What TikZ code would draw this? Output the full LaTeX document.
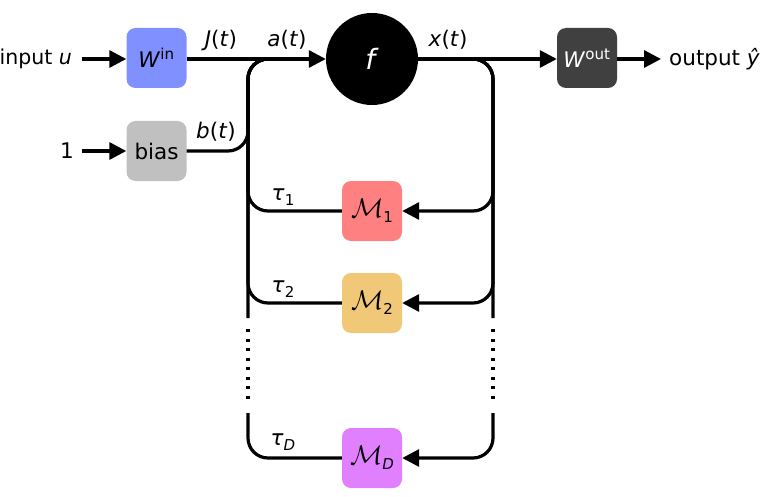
\documentclass[tikz,border=0pt]{standalone}
\usepackage{fontspec}
\usepackage{graphicx}
\setmainfont{DejaVu Sans}
\usetikzlibrary{arrows.meta}
\definecolor{cwin}{HTML}{8090FF}
\definecolor{cwout}{HTML}{404040}
\definecolor{cbias}{HTML}{C0C0C0}
\definecolor{cmone}{HTML}{FF8080}
\definecolor{cmtwo}{HTML}{F0C878}
\definecolor{cmd}{HTML}{E080FF}
\newcommand{\mysub}[1]{\raisebox{-0.45ex}{\fontsize{15}{17}\selectfont #1}}
\newcommand{\calM}{\scalebox{1.3}{$\mathcal{M}$}}
\tikzset{
  every node/.style={font=\fontsize{21.5}{25}\selectfont},
  wire/.style={line width=3.2pt, line cap=butt},
  arr/.style={wire, -{Triangle[length=17pt,width=17pt]}},
  blk/.style={rounded corners=9pt, minimum width=60pt, minimum height=60pt, inner sep=0pt, draw=none},
  lbl/.style={inner sep=0pt},
  roundbend/.style={rounded corners=20pt},
  dotline/.style={line width=3.2pt, dash pattern=on 3.2pt off 6.3pt},
}
\begin{document}
\begin{tikzpicture}[x=1pt,y=-1pt]
\useasboundingbox (0,0) rectangle (767,497);
% nodes
\node[lbl, anchor=east, font=\fontsize{20.5}{23}\selectfont] (inp) at (72,59) {input \textit{u}};
\node[lbl, anchor=east] (one) at (74,151) {1};
\node[blk, fill=cwin] (win) at (156.5,58) {\textit{W}\textsuperscript{in}};
\node[blk, fill=cbias] (bias) at (156.5,151) {bias};
\node[circle, fill=black, minimum size=92pt, inner sep=0pt] (f) at (372,59) {\color{white}\fontsize{28}{30}\selectfont\textit{f}};
\node[blk, fill=cwout] (wout) at (587,58) {\color{white}\textit{W}\textsuperscript{out}};
\node[lbl, anchor=west] (out) at (669,59) {output \textit{ŷ}};
\node[blk, fill=cmone] (m1) at (372,211) {\calM\mysub{1}};
\node[blk, fill=cmtwo] (m2) at (372,303) {\calM\mysub{2}};
\node[blk, fill=cmd] (md) at (372,458) {\calM\mysub{\textit{D}}};
% labels
\node[lbl] (lj) at (221,40) {\textit{J}(\textit{t})};
\node[lbl] (la) at (287,40) {\textit{a}(\textit{t})};
\node[lbl] (lb) at (216,132) {\textit{b}(\textit{t})};
\node[lbl] (lx) at (448,40) {\textit{x}(\textit{t})};
\node[lbl] (t1) at (283,197) {\textit{τ}\mysub{1}};
\node[lbl] (t2) at (283,289) {\textit{τ}\mysub{2}};
\node[lbl] (td) at (283,442) {\textit{τ}\mysub{\textit{D}}};
% coordinates
\coordinate (lt) at (248,59);
\coordinate (ajoin) at (295,59);
\coordinate (lbot) at (248,318);
\coordinate (ldot1) at (248,329);
\coordinate (ldot2) at (248,404);
\coordinate (ltop2) at (248,413);
\coordinate (rt) at (493,59);
\coordinate (xjoin) at (450,59);
\coordinate (rbot) at (493,318);
\coordinate (rdot1) at (493,329);
\coordinate (rdot2) at (493,404);
\coordinate (rtop2) at (493,413);
\coordinate (oend) at (661,59);
\coordinate (iend) at (82,59);
\coordinate (oneend) at (82,151);
% connectors
\draw[arr] (iend) -- (win.west |- iend);
\draw[arr] (oneend) -- (bias.west);
\draw[arr] (win.east |- f.west) -- (f.west);
\draw[wire, roundbend] (bias.east) -| (lt) -- (ajoin);
\draw[wire, roundbend] (lbot) -- (lt) -- (ajoin);
\draw[wire, roundbend] (m1.west) -| (lt) -- (ajoin);
\draw[wire, roundbend] (m2.west) -| (lt) -- (ajoin);
\draw[wire, roundbend] (md.west) -| (ltop2);
\draw[dotline] (ldot1) -- (ldot2);
\draw[arr] (f.east) -- (wout.west |- f.east);
\draw[wire, roundbend] (xjoin) -| (rbot);
\draw[arr, roundbend] (xjoin) -| (rt |- m1.east) -- (m1.east);
\draw[arr, roundbend] (xjoin) -| (rt |- m2.east) -- (m2.east);
\draw[arr, roundbend] (rtop2) |- (md.east);
\draw[dotline] (rdot1) -- (rdot2);
\draw[arr] (wout.east |- f.east) -- (oend);
\end{tikzpicture}
\end{document}
